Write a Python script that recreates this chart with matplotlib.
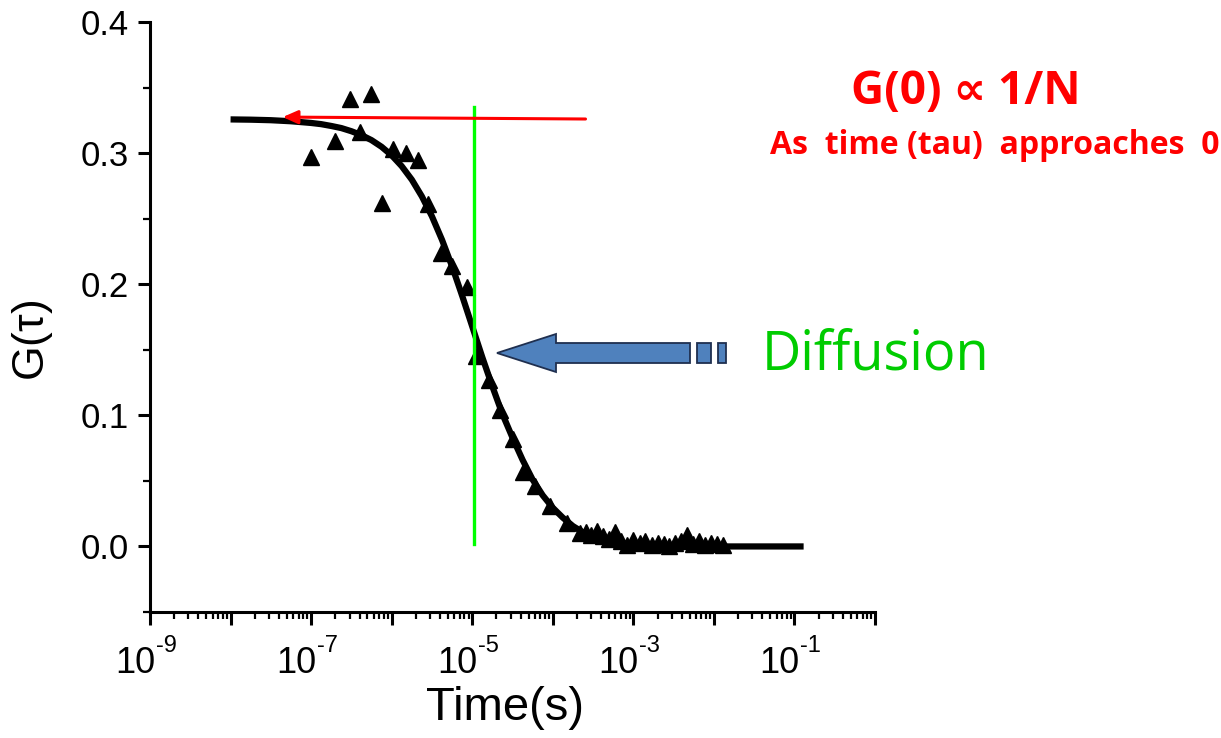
import numpy as np
import matplotlib
matplotlib.use("Agg")
import matplotlib.pyplot as plt
import matplotlib.ticker as mticker
from matplotlib.patches import Polygon, Rectangle

plt.rcParams['font.family'] = ['Liberation Sans', 'DejaVu Sans']
plt.rcParams['mathtext.fontset'] = 'custom'
plt.rcParams['mathtext.rm'] = 'Liberation Sans'
plt.rcParams['mathtext.it'] = 'Liberation Sans'

# measured correlation (triangles)
tau_data = [1.0e-7, 2.0e-7, 3.0e-7, 4.0e-7, 5.6e-7, 7.6e-7, 1.05e-6, 1.5e-6, 2.1e-6,
            2.8e-6, 4.1e-6, 5.6e-6, 8.7e-6, 1.1e-5, 1.6e-5, 2.2e-5, 3.2e-5, 4.3e-5,
            6.1e-5, 9.3e-5, 1.5e-4, 2.2e-4, 2.6e-4, 3.0e-4, 3.5e-4, 4.2e-4, 5.0e-4,
            6.0e-4, 7.0e-4, 8.3e-4, 1.0e-3, 1.2e-3, 1.4e-3, 1.7e-3, 2.0e-3, 2.4e-3,
            2.8e-3, 3.3e-3, 3.9e-3, 4.6e-3, 5.5e-3, 6.5e-3, 7.7e-3, 9.1e-3, 1.08e-2,
            1.28e-2]
g_data = [0.297, 0.309, 0.341, 0.316, 0.345, 0.262, 0.303, 0.300, 0.295,
          0.261, 0.224, 0.214, 0.198, 0.145, 0.127, 0.104, 0.082, 0.057,
          0.046, 0.031, 0.0175, 0.010, 0.011, 0.009, 0.012, 0.008, 0.006,
          0.011, 0.004, 0.001, 0.005, 0.003, 0.004, 0.001, 0.003, 0.002,
          0.000, 0.003, 0.004, 0.009, 0.002, 0.004, 0.001, 0.003, 0.002,
          0.001]

# fitted curve
tau_fit = [1.0e-8, 1.78e-8, 3.16e-8, 5.62e-8, 1.0e-7, 1.33e-7, 1.78e-7, 2.37e-7,
           3.16e-7, 4.22e-7, 5.62e-7, 7.5e-7, 1.0e-6, 1.33e-6, 1.78e-6, 2.37e-6,
           3.16e-6, 4.22e-6, 5.62e-6, 7.5e-6, 1.0e-5, 1.33e-5, 1.78e-5, 2.37e-5,
           3.16e-5, 4.22e-5, 5.62e-5, 7.5e-5, 1.0e-4, 1.33e-4, 1.78e-4, 2.37e-4,
           3.16e-4, 4.22e-4, 5.62e-4, 7.5e-4, 1.0e-3, 1.78e-3, 3.16e-3, 5.62e-3,
           1.0e-2, 3.16e-2, 1.3e-1]
g_fit = [0.3257, 0.3255, 0.3251, 0.3243, 0.3230, 0.3221, 0.3207, 0.3191,
         0.3167, 0.3137, 0.3099, 0.3048, 0.2983, 0.2901, 0.2797, 0.2670,
         0.2518, 0.2338, 0.2136, 0.1912, 0.1678, 0.1445, 0.1220, 0.1010,
         0.0830, 0.0660, 0.0510, 0.0390, 0.0295, 0.0220, 0.0155, 0.0108,
         0.0078, 0.0052, 0.0036, 0.0024, 0.0017, 0.0007, 0.0003, 0.0001,
         0.0, 0.0, 0.0]

label_exps = [-9, -7, -5, -3, -1]

W, H = 1221, 738
fig = plt.figure(figsize=(W / 100, H / 100), dpi=100)
ax = fig.add_axes([150 / W, 1 - 612 / H, 725 / W, 590 / H])

ax.plot(tau_fit, g_fit, color='black', lw=4.5, zorder=3, solid_capstyle='butt')
ax.plot(tau_data, g_data, '^', color='black', ms=11, zorder=4)

# green line marking diffusion time, red arrow towards G(0)
ax.plot([1.05e-5, 1.05e-5], [0.002, 0.335], color='#00ff00', lw=2.4, zorder=5)
ax.annotate('', xy=(4.1e-8, 0.3275), xytext=(2.76e-4, 0.326),
            arrowprops=dict(arrowstyle='-|>,head_length=0.9,head_width=0.4',
                            color='#ff0000', lw=2.2), zorder=5)

ax.set_xscale('log')
ax.set_xlim(1e-9, 1e0)
ax.set_ylim(-0.05, 0.4)
ax.set_xlabel('Time(s)', fontsize=34)
ax.xaxis.set_label_coords(0.49, -0.125)
ax.set_ylabel('G($\\tau$)', fontsize=32)
ax.yaxis.set_label_coords(-0.131, 0.461)

for s in ['top', 'right']:
    ax.spines[s].set_visible(False)
for s in ['left', 'bottom']:
    ax.spines[s].set_linewidth(2.2)

ax.xaxis.set_major_locator(mticker.LogLocator(base=10, numticks=20))
ax.xaxis.set_minor_locator(mticker.LogLocator(base=10, subs=np.arange(2, 10), numticks=20))
ax.xaxis.set_major_formatter(mticker.NullFormatter())
ax.xaxis.set_minor_formatter(mticker.NullFormatter())
ax.yaxis.set_major_locator(mticker.MultipleLocator(0.1))
ax.yaxis.set_minor_locator(mticker.MultipleLocator(0.05))
ax.yaxis.set_major_formatter(mticker.FormatStrFormatter('%.1f'))
ax.tick_params(which='major', direction='out', length=9, width=2.2, labelsize=25, pad=6)
ax.tick_params(which='minor', direction='out', length=5, width=1.6)

# x tick labels drawn as "10" plus a raised exponent
for e in label_exps:
    ax.annotate('10', xy=(10.0 ** e, 0), xycoords=('data', 'axes fraction'),
                xytext=(3.6, -44), textcoords='offset points',
                ha='right', va='baseline', fontsize=26)
    ax.annotate('-%d' % -e, xy=(10.0 ** e, 0), xycoords=('data', 'axes fraction'),
                xytext=(4.0, -29), textcoords='offset points',
                ha='left', va='baseline', fontsize=17)


def px(x, y):
    return (x / W, 1 - y / H)


# blue block arrow pointing at the curve
arrow_pts = [px(497, 353), px(556, 334), px(556, 343), px(690, 343),
             px(690, 363), px(556, 363), px(556, 372)]
fig.patches.append(Polygon(arrow_pts, closed=True, transform=fig.transFigure,
                           facecolor='#4f81bd', edgecolor='#1f2f4f', lw=1.3))
for x0, x1 in [(697, 711), (718, 726)]:
    fig.patches.append(Rectangle(px(x0, 363), (x1 - x0) / W, 20 / H,
                                 transform=fig.transFigure, facecolor='#4f81bd',
                                 edgecolor='#1f2f4f', lw=1.3))

fig.text(px(876, 355)[0], px(876, 355)[1], 'Diffusion', color='#00cc00', fontsize=39,
         family=['Open Sans', 'DejaVu Sans'], ha='center', va='center')
fig.text(px(966, 91)[0], px(966, 91)[1], 'G(0) \u221d 1/N', color='#ff0000', fontsize=33,
         family=['Open Sans', 'DejaVu Sans'], weight='bold', ha='center', va='center')
fig.text(px(995, 145)[0], px(995, 145)[1], 'As  time (tau)  approaches  0', color='#ff0000',
         fontsize=23, family=['Open Sans', 'DejaVu Sans'], weight='bold',
         ha='center', va='center')

fig.savefig('out.png', dpi=100)
